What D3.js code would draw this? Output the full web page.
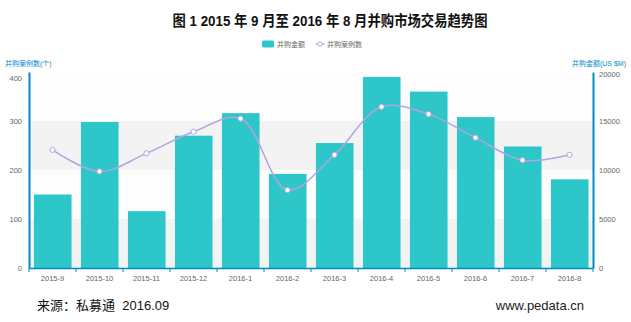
<!DOCTYPE html>
<html>
<head>
<meta charset="utf-8">
<script src="https://cdn.jsdelivr.net/npm/d3@7"></script>
<style>
  html, body { margin: 0; padding: 0; background: #ffffff; }
  svg { display: block; }
  text { font-family: "Liberation Sans", "Noto Sans CJK SC", sans-serif; }
</style>
</head>
<body>
<svg id="chart" width="631" height="322"></svg>
<script>
// Monthly M&A market data, Sep 2015 – Aug 2016
const months = ["2015-9", "2015-10", "2015-11", "2015-12", "2016-1", "2016-2",
                "2016-3", "2016-4", "2016-5", "2016-6", "2016-7", "2016-8"];
// Deal amount (US $M), right axis
const dealAmount = [7500, 14900, 5800, 13500, 15800, 9600, 12750, 19500, 18000, 15400, 12400, 9050];
// Number of deals, left axis
const dealCount = [241, 197, 234, 278, 305, 159, 231, 329, 314, 266, 220, 231];
const countTicks = [0, 100, 200, 300, 400];
const amountTicks = [0, 5000, 10000, 15000, 20000];

const titleText = "图 1 2015 年 9 月至 2016 年 8 月并购市场交易趋势图";
const amountName = "并购金额";
const countName = "并购案例数";
const leftAxisName = "并购案例数(个)";
const rightAxisName = "并购金额(US $M)";
const sourceText = "来源：私募通\u00a0\u00a02016.09";
const siteText = "www.pedata.cn";

const barColor = "#2ec7c9";
const lineColor = "#b6a2de";
const axisColor = "#008acd";
const labelColor = "#666666";

const svg = d3.select("#chart");
const plotL = 29, plotR = 593, plotT = 72, plotB = 268;

const x = d3.scaleBand().domain(months).range([plotL, plotR]).padding(0);
const yCount = d3.scaleLinear().domain([0, 400]).range([plotB, plotT]);
const yAmount = d3.scaleLinear().domain([0, 20000]).range([plotB, plotT]);

// Alternating split-area bands
const bands = d3.pairs(countTicks);
svg.append("g").selectAll("rect").data(bands).join("rect")
  .attr("x", plotL).attr("width", plotR - plotL)
  .attr("y", d => yCount(d[1]))
  .attr("height", d => yCount(d[0]) - yCount(d[1]))
  .attr("fill", (d, i) => i % 2 === 0 ? "#f3f3f3" : "#fdfdfd");

// Bars: deal amount
const bw = x.bandwidth() * 0.8;
svg.append("g").selectAll("rect").data(dealAmount).join("rect")
  .attr("x", (d, i) => x(months[i]) + x.bandwidth() * 0.105)
  .attr("width", bw)
  .attr("y", d => yAmount(d))
  .attr("height", d => plotB - yAmount(d))
  .attr("fill", barColor);

// Smoothed line: deal count
const pts = dealCount.map((d, i) => [x(months[i]) + x.bandwidth() / 2, yCount(d)]);
svg.append("path")
  .attr("d", d3.line().curve(d3.curveCatmullRom.alpha(0.5))(pts))
  .attr("fill", "none").attr("stroke", lineColor).attr("stroke-width", 1.5);
svg.append("g").selectAll("circle").data(pts).join("circle")
  .attr("cx", d => d[0]).attr("cy", d => d[1]).attr("r", 2.6)
  .attr("fill", "#ffffff").attr("stroke", lineColor).attr("stroke-width", 1);

// Axes
const axisLeft = d3.axisLeft(yCount).tickValues(countTicks).tickSize(0).tickPadding(7);
const gL = svg.append("g").attr("transform", `translate(${plotL},0)`).call(axisLeft);
const axisRight = d3.axisRight(yAmount).tickValues(amountTicks).tickFormat(d3.format("d"))
  .tickSize(0).tickPadding(6);
const gR = svg.append("g").attr("transform", `translate(${plotR},0)`).call(axisRight);
const axisBottom = d3.axisBottom(x).tickSize(0).tickPadding(8);
const gB = svg.append("g").attr("transform", `translate(0,${plotB})`).call(axisBottom);

[gL, gR, gB].forEach(g => {
  g.select(".domain").attr("stroke", axisColor).attr("stroke-width", 2);
  g.selectAll("text").attr("fill", labelColor).attr("font-size", 7.5)
    .attr("font-family", "'Noto Sans CJK SC', sans-serif");
});
gB.select(".domain").attr("stroke-width", 1.5);
// top labels sit just inside the plot
gL.selectAll(".tick").filter(d => d === 400).select("text").attr("dy", "1.1em");
gR.selectAll(".tick").filter(d => d === 20000).select("text").attr("dy", "0.6em");

// Category boundary ticks on the x axis
svg.append("g").selectAll("line").data(months.concat([null])).join("line")
  .attr("x1", (d, i) => plotL + i * x.step()).attr("x2", (d, i) => plotL + i * x.step())
  .attr("y1", plotB).attr("y2", plotB + 4)
  .attr("stroke", axisColor).attr("stroke-width", 1);

// Axis names
svg.append("text").attr("x", 5).attr("y", 66).text(leftAxisName)
  .attr("font-size", 7).attr("fill", axisColor);
svg.append("text").attr("x", 626).attr("y", 66).attr("text-anchor", "end").text(rightAxisName)
  .attr("font-size", 7).attr("fill", axisColor);

// Title
svg.append("text").attr("x", 330).attr("y", 26).attr("text-anchor", "middle")
  .attr("font-family", "'Noto Sans CJK SC', sans-serif")
  .attr("font-size", 15).attr("font-weight", "bold").attr("fill", "#111")
  .attr("textLength", 315).attr("lengthAdjust", "spacingAndGlyphs")
  .text(titleText);

// Legend
const lg = svg.append("g").attr("transform", "translate(262,44)");
lg.append("rect").attr("x", 0).attr("y", -3.5).attr("width", 12).attr("height", 7)
  .attr("rx", 1.5).attr("fill", barColor);
lg.append("text").attr("x", 15).attr("y", 2.5).attr("font-size", 7).attr("fill", labelColor).text(amountName);
lg.append("line").attr("x1", 53).attr("x2", 63).attr("y1", 0).attr("y2", 0)
  .attr("stroke", lineColor).attr("stroke-width", 1);
lg.append("circle").attr("cx", 58).attr("cy", 0).attr("r", 2.2)
  .attr("fill", "#fff").attr("stroke", lineColor);
lg.append("text").attr("x", 65).attr("y", 2.5).attr("font-size", 7).attr("fill", labelColor).text(countName);

// Footer
svg.append("text").attr("x", 37).attr("y", 310).attr("font-size", 13).attr("fill", "#111").text(sourceText);
svg.append("text").attr("x", 584).attr("y", 310).attr("text-anchor", "end")
  .attr("font-size", 13).attr("fill", "#222").text(siteText);
</script>
</body>
</html>
